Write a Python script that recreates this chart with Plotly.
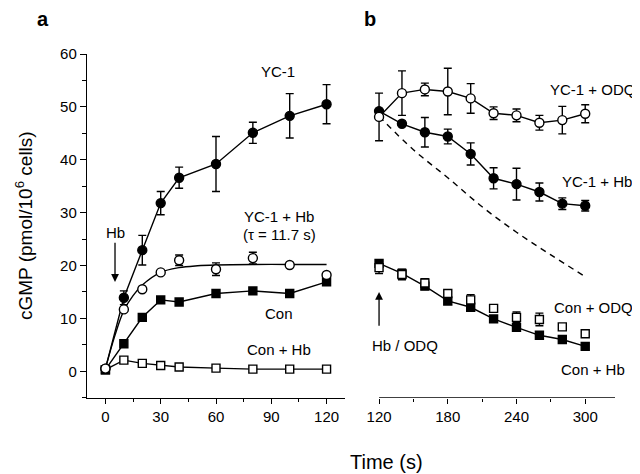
import plotly.graph_objects as go

# ---------- Panel a data ----------
t_a = [0, 10, 20, 30, 40, 60, 80, 100, 120]
yc1 = [0.5, 13.9, 22.9, 31.8, 36.6, 39.2, 45.1, 48.3, 50.5]
yc1_err = [0, 1.3, 2.8, 2.2, 2.0, 5.2, 2.0, 4.2, 3.7]
yc1_hb = [0.5, 11.7, 15.5, 18.7, 21.0, 19.3, 21.4, 20.1, 18.2]
yc1_hb_err = [0, 0, 0, 0, 1.0, 1.2, 1.1, 0, 0]
con = [0.3, 5.2, 10.2, 13.5, 13.1, 14.7, 15.2, 14.7, 16.9]
con_hb = [0.3, 2.1, 1.5, 1.1, 0.8, 0.6, 0.4, 0.4, 0.4]

# fitted curve for YC-1 + Hb
fit_t = [0, 5, 10, 15, 20, 30, 40, 50, 60, 80, 100, 120]
fit_y = [0.5, 6.6, 11.5, 14.3, 16.3, 18.7, 19.6, 19.95, 20.1, 20.2, 20.2, 20.2]

# ---------- Panel b data ----------
t_b = [120, 140, 160, 180, 200, 220, 240, 260, 280, 300]
yc1_odq = [48.1, 52.6, 53.3, 52.9, 51.6, 48.8, 48.4, 47.0, 47.5, 48.7]
yc1_odq_err = [4.5, 4.2, 1.2, 4.4, 2.8, 1.2, 1.2, 1.4, 2.6, 1.7]
yc1_hb_b = [49.2, 46.8, 45.2, 44.4, 41.1, 36.5, 35.4, 33.9, 31.7, 31.3]
yc1_hb_b_err = [0, 0, 2.8, 1.4, 2.1, 2.0, 3.0, 1.7, 1.1, 1.0]
con_hb_b = [20.4, 18.5, 16.1, 13.3, 12.1, 9.9, 8.3, 6.8, 6.0, 4.7]
con_odq = [19.6, 18.3, 16.7, 14.7, 13.5, 11.9, 10.2, 9.8, 8.4, 7.1]
con_odq_err = [1.1, 1.0, 0.8, 0.5, 1.0, 0.5, 1.0, 1.2, 0.5, 0.6]

dash_t = [120, 150, 180, 210, 240, 270, 300]
dash_y = [48.2, 41.9, 36.6, 31.1, 26.3, 22.0, 17.9]

FONT = "Liberation Sans, Arial, sans-serif"
BLK = "black"

# page offset (browser body margin) compensation
OFF = 8
W, H = 640 - OFF, 474 - OFF


def px(p):
    return (p - OFF) / W


def py(p):
    return 1 - (p - OFF) / H


def err(vals):
    return dict(type="data", array=vals, visible=True, color=BLK, thickness=1.4, width=4)


def mk(symbol, filled):
    size = 9 if symbol == "circle" else 8
    return dict(symbol=symbol, size=size, color=BLK if filled else "white",
                line=dict(color=BLK, width=1.4))


fig = go.Figure()

# Panel a
fig.add_trace(go.Scatter(x=t_a, y=con_hb, mode="lines+markers", line=dict(color=BLK, width=1.4),
                         marker=mk("square", False), xaxis="x", yaxis="y"))
fig.add_trace(go.Scatter(x=t_a, y=con, mode="lines+markers", line=dict(color=BLK, width=1.4),
                         marker=mk("square", True), xaxis="x", yaxis="y"))
fig.add_trace(go.Scatter(x=fit_t, y=fit_y, mode="lines", line=dict(color=BLK, width=1.4, shape="spline"),
                         xaxis="x", yaxis="y"))
fig.add_trace(go.Scatter(x=t_a, y=yc1, mode="lines+markers", line=dict(color=BLK, width=1.4),
                         marker=mk("circle", True), error_y=err(yc1_err), xaxis="x", yaxis="y"))
fig.add_trace(go.Scatter(x=t_a, y=yc1_hb, mode="markers",
                         marker=mk("circle", False), error_y=err(yc1_hb_err), xaxis="x", yaxis="y"))

# Panel b
fig.add_trace(go.Scatter(x=dash_t, y=dash_y, mode="lines",
                         line=dict(color=BLK, width=1.4, dash="6px,5px", shape="spline"),
                         xaxis="x2", yaxis="y2"))
fig.add_trace(go.Scatter(x=t_b, y=con_hb_b, mode="lines+markers", line=dict(color=BLK, width=1.4),
                         marker=mk("square", True), xaxis="x2", yaxis="y2"))
fig.add_trace(go.Scatter(x=t_b, y=con_odq, mode="markers",
                         marker=mk("square", False), error_y=err(con_odq_err), xaxis="x2", yaxis="y2"))
fig.add_trace(go.Scatter(x=t_b, y=yc1_hb_b, mode="lines+markers", line=dict(color=BLK, width=1.4),
                         marker=mk("circle", True), error_y=err(yc1_hb_b_err), xaxis="x2", yaxis="y2"))
fig.add_trace(go.Scatter(x=t_b, y=yc1_odq, mode="lines+markers", line=dict(color=BLK, width=1.4),
                         marker=mk("circle", False), error_y=err(yc1_odq_err), xaxis="x2", yaxis="y2"))

ydom = [py(397.7), py(54)]
tickfont = dict(family=FONT, size=15, color=BLK)

fig.update_layout(
    template="none",
    width=W, height=H, showlegend=False, autosize=False,
    margin=dict(l=0, r=0, t=0, b=0, pad=0, autoexpand=False),
    paper_bgcolor="white", plot_bgcolor="white",
    font=dict(family=FONT, color=BLK),
    xaxis=dict(domain=[px(87), px(345)], range=[-10, 130], tickvals=[0, 30, 60, 90, 120],
               ticks="outside", ticklen=5, tickwidth=1.3, tickcolor=BLK, automargin=False,
               minor=dict(dtick=15, tick0=0, ticks="outside", ticklen=3, tickwidth=1.3, tickcolor=BLK),
               showline=True, linecolor=BLK, linewidth=1.4, showgrid=False, zeroline=False,
               tickfont=tickfont, anchor="y"),
    yaxis=dict(domain=ydom, range=[-5, 60], tickvals=[0, 10, 20, 30, 40, 50, 60],
               ticks="outside", ticklen=6, tickwidth=1.3, tickcolor=BLK, automargin=False,
               minor=dict(dtick=5, tick0=0, ticks="outside", ticklen=4, tickwidth=1.3, tickcolor=BLK),
               showline=True, linecolor=BLK, linewidth=1.4, showgrid=False, zeroline=False,
               tickfont=tickfont, anchor="x"),
    xaxis2=dict(domain=[px(367.6), px(615)], range=[110, 326], tickvals=[120, 180, 240, 300],
                ticks="outside", ticklen=5, tickwidth=1.3, tickcolor=BLK, automargin=False,
                minor=dict(dtick=30, tick0=0, ticks="outside", ticklen=3, tickwidth=1.3, tickcolor=BLK),
                showline=False, showgrid=False, zeroline=False, tickfont=tickfont, anchor="y2"),
    yaxis2=dict(domain=ydom, range=[-5, 60], visible=False, anchor="x2", automargin=False),
)

# axis line for panel b starting at 120
fig.add_shape(type="line", xref="x2", yref="y2", x0=120, x1=326, y0=-5, y1=-5,
              line=dict(color=BLK, width=1.4))

lab = dict(family=FONT, size=15, color=BLK)
ann = [
    dict(text="YC-1", x=93.7, y=56.7, xref="x", yref="y"),
    dict(text="YC-1 + Hb", x=94.2, y=29.2, xref="x", yref="y"),
    dict(text="(τ = 11.7 s)", x=94.2, y=25.8, xref="x", yref="y"),
    dict(text="Con", x=94.2, y=11.0, xref="x", yref="y"),
    dict(text="Con + Hb", x=94.2, y=4.2, xref="x", yref="y"),
    dict(text="YC-1 + ODQ", x=306.5, y=53.3, xref="x2", yref="y2"),
    dict(text="YC-1 + Hb", x=310, y=35.8, xref="x2", yref="y2"),
    dict(text="Con + ODQ", x=307.3, y=12.1, xref="x2", yref="y2"),
    dict(text="Con + Hb", x=307, y=0.4, xref="x2", yref="y2"),
    dict(text="Hb / ODQ", x=142.7, y=4.9, xref="x2", yref="y2"),
]
for a in ann:
    fig.add_annotation(showarrow=False, font=lab, xanchor="center", yanchor="middle", **a)

# arrows
fig.add_annotation(x=5.2, y=16.9, ax=5.2, ay=26.2, xref="x", yref="y", axref="x", ayref="y",
                   text="Hb", font=lab, showarrow=True, arrowhead=2, arrowsize=1.2,
                   arrowwidth=1.3, arrowcolor=BLK, standoff=0)
fig.add_annotation(x=120, y=15.0, ax=120, ay=8.3, xref="x2", yref="y2", axref="x2", ayref="y2",
                   showarrow=True, arrowhead=2, arrowsize=1.2, arrowwidth=1.3, arrowcolor=BLK, text="")

# panel letters & titles
fig.add_annotation(text="<b>a</b>", x=px(43), y=py(19), xref="paper", yref="paper",
                   xanchor="center", yanchor="middle",
                   showarrow=False, font=dict(family=FONT, size=20, color=BLK))
fig.add_annotation(text="<b>b</b>", x=px(370), y=py(19), xref="paper", yref="paper",
                   xanchor="center", yanchor="middle",
                   showarrow=False, font=dict(family=FONT, size=20, color=BLK))
fig.add_annotation(text="cGMP (pmol/10<sup>6</sup> cells)", x=px(24), y=py(226),
                   xref="paper", yref="paper", textangle=-90, showarrow=False,
                   xanchor="center", yanchor="middle",
                   font=dict(family=FONT, size=19, color=BLK))
fig.add_annotation(text="Time (s)", x=px(386), y=py(462), xref="paper", yref="paper",
                   xanchor="center", yanchor="middle",
                   showarrow=False, font=dict(family=FONT, size=20, color=BLK))

fig.write_html("out.html")
